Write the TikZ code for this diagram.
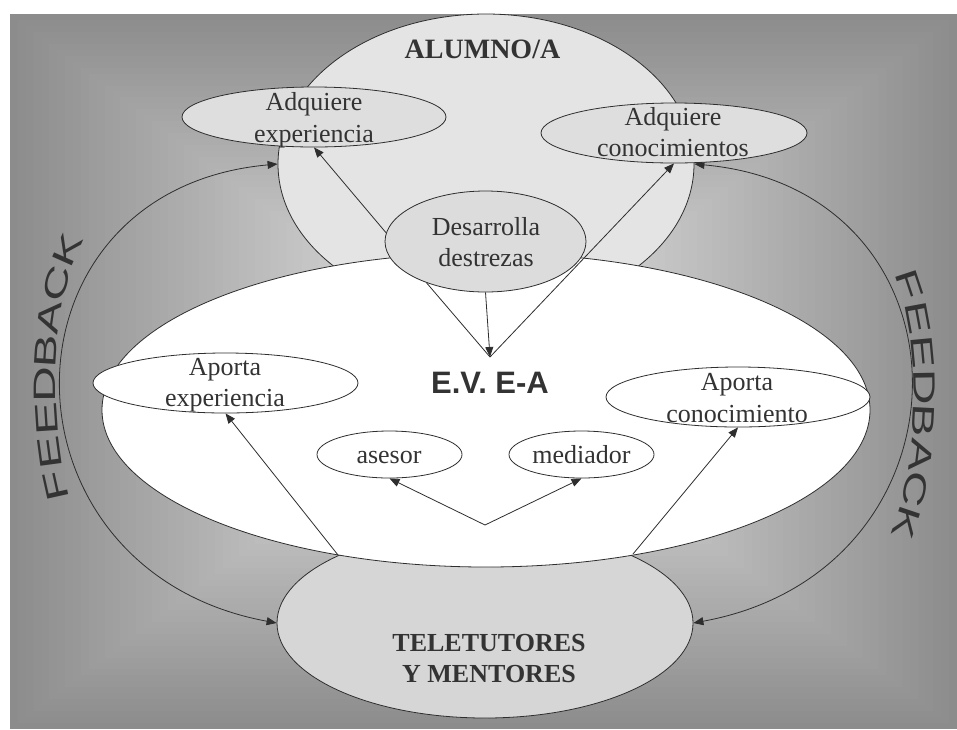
\documentclass[tikz,border=0pt]{standalone}
\usepackage{graphicx}
\usepackage{fontspec}
\setmainfont{Liberation Serif}
\newfontfamily\sansf{Liberation Sans}
\usetikzlibrary{shapes.geometric,arrows.meta,decorations.markings}
\definecolor{linec}{HTML}{2E2E2E}
\definecolor{textc}{HTML}{333333}
\definecolor{alumc}{HTML}{E4E4E4}
\definecolor{smallc}{HTML}{DEDEDE}
\definecolor{desc}{HTML}{DCDCDC}
\definecolor{telec}{HTML}{D6D6D6}
\newcommand{\serifsz}{\fontsize{26}{31.5}\selectfont}
\newcommand{\fbstyle}{\sansf\fontsize{31}{36}\selectfont}
\newcommand{\fbl}[1]{\scalebox{1.6}[1]{#1}}
\begin{document}
\begin{tikzpicture}[x=1pt,y=-1pt,
  ln/.style={draw=linec, line width=0.8pt},
  arr/.style={ln, -{Triangle[length=10pt,width=8pt]}},
  darr/.style={ln, {Triangle[length=10pt,width=8pt]}-{Triangle[length=10pt,width=8pt]}},
  ell/.style={ellipse, draw=linec, line width=0.8pt, inner sep=0pt},
  txt/.style={text=textc, font=\serifsz, align=center, inner sep=0pt},
  fbletter/.style={transform shape, anchor=base, inner sep=0pt, text=textc, font=\fbstyle},
  fbmarks/.style={decorate, decoration={markings,
    mark=at position 0.0625 with {\node[fbletter] (#1a) {\fbl{F}};},
    mark=at position 0.1875 with {\node[fbletter] (#1b) {\fbl{E}};},
    mark=at position 0.3125 with {\node[fbletter] (#1c) {\fbl{E}};},
    mark=at position 0.4375 with {\node[fbletter] (#1d) {\fbl{D}};},
    mark=at position 0.5625 with {\node[fbletter] (#1e) {\fbl{B}};},
    mark=at position 0.6875 with {\node[fbletter] (#1f) {\fbl{A}};},
    mark=at position 0.8125 with {\node[fbletter] (#1g) {\fbl{C}};},
    mark=at position 0.9375 with {\node[fbletter] (#1h) {\fbl{K}};}}}
]
\useasboundingbox (0,0) rectangle (957,729);
\fill[white] (0,0) rectangle (957,729);
% rectangular "from centre" gradient
\foreach \i in {0,...,59}{
  \pgfmathsetmacro{\f}{\i/60}
  \pgfmathsetmacro{\p}{45-36*\f}
  \fill[black!\p] ({10+\f*473.5},{14+\f*357.5}) rectangle ({957-\f*473.5},{729-\f*357.5});
}
% big ellipses
\node[ell, fill=alumc, minimum width=416pt, minimum height=300pt] (AL) at (486,164) {};
\node[ell, fill=telec, minimum width=416pt, minimum height=190pt] (TE) at (485,623) {};
\node[ell, fill=white, minimum width=768pt, minimum height=314pt] (EV) at (486,410) {};
% feedback arcs
\draw[darr] (AL.west) .. controls (-10,190) and (-10,570) .. (TE.west);
\draw[darr] (AL.east) .. controls (982,190) and (982,570) .. (TE.east);
% small ellipses
\node[ell, fill=smallc, minimum width=264pt, minimum height=60pt] (AE) at (314,117) {};
\node[ell, fill=smallc, minimum width=266pt, minimum height=60pt] (AC) at (674,133) {};
\node[ell, fill=desc, minimum width=201pt, minimum height=101pt] (DD) at (485.5,241.5) {};
\node[ell, fill=white, minimum width=265pt, minimum height=60pt] (AE2) at (225.5,383) {};
\node[ell, fill=white, minimum width=264pt, minimum height=60pt] (AC2) at (738,397) {};
\node[ell, fill=white, minimum width=145pt, minimum height=47pt] (AS) at (389.5,454.5) {};
\node[ell, fill=white, minimum width=145pt, minimum height=47pt] (ME) at (581.5,454.5) {};
% junction points
\coordinate (apex) at (490,357);
\coordinate (vapex) at (485,525);
\coordinate (tl) at (338,555);
\coordinate (tr) at (633,554);
% connectors
\draw[arr] (DD.175) -- (AE.south);
\draw[ln] (DD.215) -- (apex);
\draw[arr] (DD.south) -- (apex);
\draw[arr] (apex) -- (AC.south);
\draw[arr] (vapex) -- (AS.south);
\draw[arr] (vapex) -- (ME.south);
\draw[arr] (tl) -- (AE2.south);
\draw[arr] (tr) -- (AC2.south);
% texts
\node[txt, font=\bfseries\fontsize{28}{32}\selectfont, anchor=base] (tAL) at (482.5,58) {ALUMNO/A};
\node[txt] (tAE) at (314,120) {Adquiere\\experiencia};
\node[txt] (tAC) at (673,132) {Adquiere\\conocimientos};
\node[txt] (tDD) at (486,242) {Desarrolla\\destrezas};
\node[txt, font=\sansf\bfseries\fontsize{31}{36}\selectfont] (tEV) at (490,383) {E.V. E-A};
\node[txt] (tAE2) at (225,385) {Aporta\\experiencia};
\node[txt] (tAC2) at (737,398) {Aporta\\conocimiento};
\node[txt, anchor=base] (tAS) at (389,463) {asesor};
\node[txt, anchor=base] (tME) at (581.5,463) {mediador};
\node[txt, font=\bfseries\fontsize{26}{31}\selectfont] (tTE) at (489,659) {TELETUTORES\\Y MENTORES};
% FEEDBACK along arcs
\path[fbmarks=fl] (70,500) .. controls (50,430) and (48,300) .. (85,240);
\path[fbmarks=fr] (893,272) .. controls (920,330) and (922,460) .. (890,535);
\end{tikzpicture}
\end{document}
